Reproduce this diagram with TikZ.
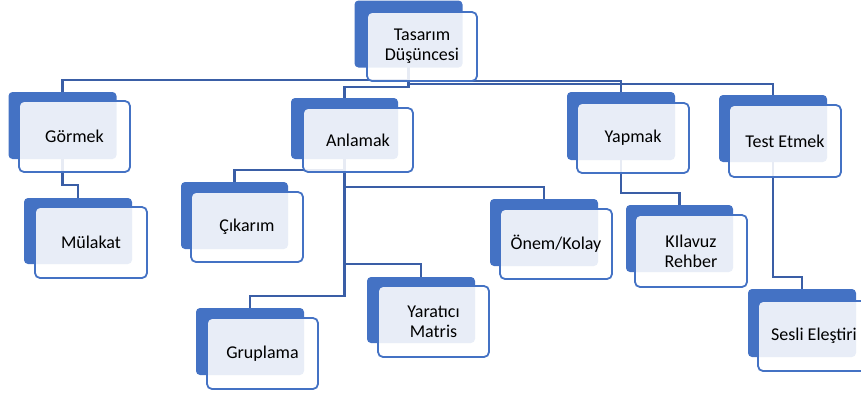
\documentclass[tikz,border=0pt]{standalone}
\usepackage{fontspec}
\setmainfont{Carlito}
\usetikzlibrary{calc}
\definecolor{acc}{HTML}{4472C4}
\definecolor{lnk}{RGB}{58,94,166}
\pgfdeclarelayer{bg}
\pgfsetlayers{bg,main}
\begin{document}
\begin{tikzpicture}[x=1pt,y=-1pt,
  backbox/.style={fill=acc, rounded corners=4pt, minimum width=108pt, minimum height=67pt, inner sep=0pt},
  frontbox/.style={draw=acc, line width=1.8pt, fill=white, fill opacity=0.88, draw opacity=1, text opacity=1,
    rounded corners=5pt, minimum width=112pt, minimum height=71pt, inner sep=0pt, align=center,
    font=\fontsize{18}{20}\selectfont},
  conn/.style={draw=lnk, line width=2.2pt}]
\clip (0,0) rectangle (861,394);

% level 0
\node[backbox] (tb) at (408.5,34) {};
\node[frontbox, minimum width=110pt, minimum height=69pt] (t) at (422,46.5) {Tasarım\\Düşüncesi};

% level 1
\node[backbox] (gb) at (62.5,125.5) {};
\node[frontbox, minimum width=111pt] (g) at (74.5,136.5) {Görmek};

\node[backbox, minimum width=107pt, minimum height=61pt] (ab) at (344.5,128.5) {};
\node[frontbox, minimum width=110pt, minimum height=64pt] (a) at (358,140) {Anlamak};

\node[backbox, minimum height=68pt] (yb) at (621,126) {};
\node[frontbox, minimum height=70pt] (y) at (633,138) {Yapmak};

\node[backbox] (eb) at (773,128.5) {};
\node[frontbox, minimum height=72pt] (e) at (785,141) {Test Etmek};

% level 2
\node[backbox, minimum height=66pt] (mb) at (78,231) {};
\node[frontbox] (m) at (91,242.5) {Mülakat};

\node[backbox, minimum width=107pt] (cb) at (234.5,215.5) {};
\node[frontbox, minimum height=70pt] (c) at (247,227) {Çıkarım};

\node[backbox] (ob) at (544,232.5) {};
\node[frontbox, minimum height=70pt] (o) at (556,244) {Önem/Kolay};

\node[backbox] (grb) at (250,341.5) {};
\node[frontbox, minimum width=111pt] (gr) at (262.5,353.5) {Gruplama};

\node[backbox, minimum height=66pt] (xb) at (421,310) {};
\node[frontbox, minimum width=111pt] (x) at (433.5,321.5) {Yaratıcı\\Matris};

\node[backbox, minimum width=107pt] (kb) at (679.5,238.5) {};
\node[frontbox, minimum height=72pt] (k) at (691,251) {KIlavuz\\Rehber};

\node[backbox, minimum height=68pt] (sb) at (802,323) {};
\node[frontbox, minimum height=70pt] (s) at (814,336) {Sesli Eleştiri};

% connector levels
\coordinate (hG) at (0,80);
\coordinate (hA) at (0,87);
\coordinate (hY) at (0,81);
\coordinate (hE) at (0,84);
\coordinate (hM) at (0,185);
\coordinate (hC) at (0,170);
\coordinate (hO) at (0,187);
\coordinate (hX) at (0,264);
\coordinate (hR) at (0,296);
\coordinate (hK) at (0,193);
\coordinate (hS) at (0,277);

\begin{pgfonlayer}{bg}
\draw[conn] (tb.center) -- (tb.center |- hG) -| (gb.north);
\draw[conn] (tb.center) -- (tb.center |- hA) -| (ab.north);
\draw[conn] (tb.center) -- (tb.center |- hY) -| (yb.north);
\draw[conn] (tb.center) -- (tb.center |- hE) -| (eb.north);
\draw[conn] (gb.center) -- (gb.center |- hM) -| (mb.north);
\draw[conn] (ab.center) -- (ab.center |- hC) -| (cb.north);
\draw[conn] (ab.center) -- (ab.center |- hO) -| (ob.north);
\draw[conn] (ab.center) -- (ab.center |- hX) -| (xb.north);
\draw[conn] (ab.center) -- (ab.center |- hR) -| (grb.north);
\draw[conn] (yb.center) -- (yb.center |- hK) -| (kb.north);
\draw[conn] (eb.center) -- (eb.center |- hS) -| (sb.north);
\end{pgfonlayer}
\end{tikzpicture}
\end{document}
